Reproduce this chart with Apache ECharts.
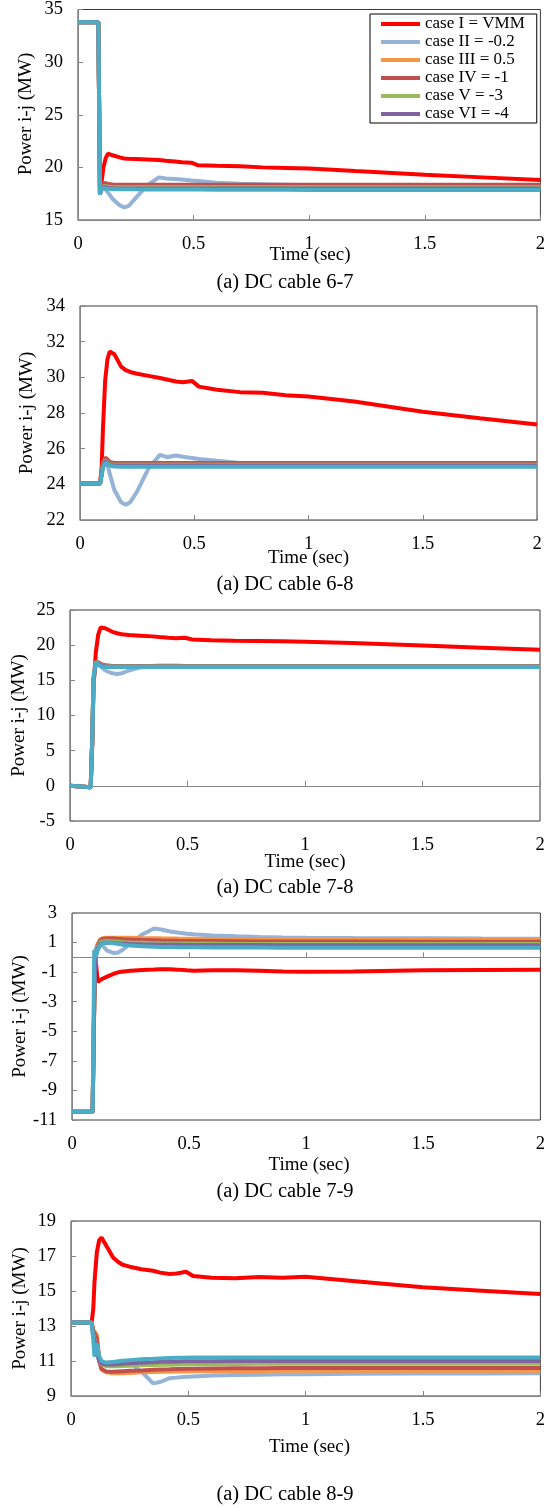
<!DOCTYPE html>
<html><head><meta charset="utf-8">
<script src="https://cdn.jsdelivr.net/npm/echarts@6/dist/echarts.min.js"></script>
<style>html,body{margin:0;padding:0;background:#fff}#c{width:548px;height:1508px}</style>
</head><body><div id="c"></div>
<script>
// time axis (sec), shared by every chart
const time = [0,0.088,0.095,0.1,0.11,0.12,0.13,0.15,0.18,0.2,0.22,0.25,0.3,0.35,0.38,0.42,0.45,0.49,0.52,0.6,0.7,0.8,0.9,1.0,1.2,1.5,1.75,2.0];
const caseNames = ['case I = VMM','case II = -0.2','case III = 0.5','case IV = -1','case V = -3','case VI = -4'];
const xTickLabels = ['0','0.5','1','1.5','2'];
const xTitle = 'Time (sec)';
const yTitle = 'Power i-j (MW)';
const captions = ['(a) DC cable 6-7','(a) DC cable 6-8','(a) DC cable 7-8','(a) DC cable 7-9','(a) DC cable 8-9'];
const yMin = [15, 22, -5, -11, 9];
const yMax = [35, 34, 25, 3, 19];
const yStep = [5, 2, 5, 2, 2];

// DC cable 6-7
const c67_I   = [33.8,33.8,17.5,18.3,20.0,20.9,21.3,21.15,20.95,20.85,20.82,20.8,20.75,20.7,20.62,20.55,20.48,20.45,20.2,20.15,20.1,20.0,19.95,19.9,19.65,19.3,19.05,18.8];
const c67_II  = [33.8,33.8,17.5,17.9,18.0,17.9,17.6,17.0,16.4,16.2,16.35,17.1,18.3,19.05,18.95,18.9,18.85,18.75,18.7,18.55,18.45,18.4,18.35,18.3,18.25,18.2,18.2,18.15];
const c67_III = [33.8,33.8,17.5,18.0,18.4,18.45,18.35,18.3,18.28,18.27,18.27,18.26,18.26,18.26,18.25,18.25,18.25,18.25,18.25,18.25,18.25,18.25,18.25,18.25,18.25,18.25,18.25,18.25];
const c67_IV  = [33.8,33.8,17.5,18.1,18.5,18.5,18.42,18.38,18.36,18.36,18.35,18.35,18.35,18.35,18.35,18.35,18.35,18.35,18.35,18.35,18.35,18.35,18.35,18.35,18.35,18.35,18.35,18.35];
const c67_V   = [33.8,33.8,17.5,17.9,18.2,18.2,18.15,18.12,18.1,18.1,18.1,18.1,18.1,18.1,18.1,18.1,18.1,18.1,18.1,18.1,18.1,18.1,18.1,18.1,18.1,18.1,18.1,18.1];
const c67_VI  = [33.8,33.8,17.5,17.9,18.1,18.1,18.05,18.02,18.0,18.0,18.0,18.0,18.0,18.0,18.0,18.0,18.0,18.0,18.0,18.0,18.0,18.0,18.0,18.0,18.0,18.0,18.0,18.0];
const c67_VII = [33.8,33.8,17.4,17.9,18.0,18.0,17.97,17.95,17.93,17.92,17.92,17.91,17.9,17.9,17.9,17.9,17.9,17.9,17.9,17.88,17.88,17.87,17.87,17.86,17.86,17.85,17.85,17.85];

// DC cable 6-8
const c68_I   = [24.05,24.05,25.0,27.0,29.8,31.0,31.45,31.3,30.6,30.4,30.3,30.2,30.08,29.96,29.88,29.77,29.73,29.8,29.48,29.3,29.17,29.13,29.0,28.92,28.64,28.07,27.7,27.35];
const c68_II  = [24.05,24.05,24.6,25.0,25.25,25.1,24.6,23.7,23.0,22.85,23.0,23.6,24.9,25.65,25.52,25.62,25.55,25.48,25.42,25.32,25.2,25.15,25.12,25.1,25.1,25.1,25.1,25.1];
const c68_III = [24.05,24.05,24.7,25.1,25.45,25.35,25.2,25.15,25.15,25.15,25.15,25.15,25.15,25.15,25.15,25.15,25.15,25.15,25.15,25.15,25.15,25.15,25.15,25.15,25.15,25.15,25.15,25.15];
const c68_IV  = [24.05,24.05,24.7,25.2,25.5,25.4,25.25,25.2,25.2,25.2,25.2,25.2,25.2,25.2,25.2,25.2,25.2,25.2,25.2,25.2,25.2,25.2,25.2,25.2,25.2,25.2,25.2,25.2];
const c68_V   = [24.05,24.05,24.6,25.0,25.35,25.25,25.12,25.1,25.1,25.1,25.1,25.1,25.1,25.1,25.1,25.1,25.1,25.1,25.1,25.1,25.1,25.1,25.1,25.1,25.1,25.1,25.1,25.1];
const c68_VI  = [24.05,24.05,24.6,25.0,25.3,25.2,25.08,25.05,25.05,25.05,25.05,25.05,25.05,25.05,25.05,25.05,25.05,25.05,25.05,25.05,25.05,25.05,25.05,25.05,25.05,25.05,25.05,25.05];
const c68_VII = [24.05,24.05,24.5,24.9,25.2,25.15,25.05,25.0,24.98,24.98,24.98,24.98,24.98,24.98,24.98,24.98,24.98,24.98,24.98,24.98,24.98,24.98,24.98,24.98,24.98,24.98,24.98,24.98];

// DC cable 7-8
const c78_I   = [0,-0.2,6,14,19,21.5,22.5,22.4,21.9,21.7,21.55,21.45,21.35,21.25,21.15,21.05,21.0,21.05,20.8,20.7,20.62,20.6,20.55,20.5,20.3,19.95,19.65,19.35];
const c78_II  = [0,-0.2,7,15,17.5,17.4,17.0,16.4,16.0,15.9,16.0,16.4,16.85,17.05,17.1,17.1,17.1,17.05,17.0,17.0,17.0,17.0,17.0,17.0,17.0,17.0,17.0,17.0];
const c78_III = [0,-0.2,7,15,17.7,17.5,17.3,17.1,17.0,17.0,17.0,17.0,17.0,17.0,17.0,17.0,17.0,17.0,17.0,17.0,17.0,17.0,17.0,17.0,17.0,17.0,17.0,17.0];
const c78_IV  = [0,-0.2,7,15,17.75,17.55,17.35,17.15,17.05,17.05,17.05,17.05,17.05,17.05,17.05,17.05,17.05,17.05,17.05,17.05,17.05,17.05,17.05,17.05,17.05,17.05,17.05,17.05];
const c78_V   = [0,-0.2,7,15,17.6,17.4,17.2,17.05,17.0,17.0,17.0,17.0,17.0,17.0,17.0,17.0,17.0,17.0,17.0,17.0,17.0,17.0,17.0,17.0,17.0,17.0,17.0,17.0];
const c78_VI  = [0,-0.2,7,15,17.55,17.35,17.15,17.0,16.95,16.95,16.95,16.95,16.95,16.95,16.95,16.95,16.95,16.95,16.95,16.95,16.95,16.95,16.95,16.95,16.95,16.95,16.95,16.95];
const c78_VII = [0,-0.2,7,15.5,17.6,17.3,17.0,16.9,16.9,16.9,16.9,16.9,16.9,16.9,16.9,16.9,16.9,16.9,16.9,16.9,16.9,16.9,16.9,16.9,16.9,16.9,16.9,16.9];

// DC cable 7-9
const c79_I   = [-10.45,-10.45,-3,0.0,-1.65,-1.55,-1.45,-1.3,-1.1,-1.0,-0.95,-0.9,-0.85,-0.82,-0.8,-0.8,-0.83,-0.88,-0.9,-0.87,-0.88,-0.9,-0.95,-0.98,-0.95,-0.88,-0.85,-0.84];
const c79_II  = [-10.45,-10.45,-2,0.5,0.9,1.05,0.8,0.45,0.28,0.35,0.55,0.95,1.55,1.95,1.88,1.75,1.68,1.6,1.56,1.48,1.42,1.38,1.35,1.33,1.31,1.29,1.27,1.26];
const c79_III = [-10.45,-10.45,-3,0.2,0.9,1.2,1.3,1.33,1.33,1.32,1.32,1.32,1.3,1.3,1.29,1.28,1.27,1.26,1.26,1.25,1.24,1.23,1.23,1.22,1.22,1.21,1.2,1.2];
const c79_IV  = [-10.45,-10.45,-3,0.1,0.8,1.15,1.25,1.28,1.27,1.25,1.22,1.2,1.18,1.16,1.14,1.13,1.12,1.11,1.1,1.1,1.09,1.08,1.08,1.07,1.07,1.06,1.06,1.05];
const c79_V   = [-10.45,-10.45,-3,0.1,0.7,1.0,1.08,1.1,1.08,1.05,1.03,1.0,0.98,0.96,0.95,0.94,0.93,0.93,0.92,0.92,0.91,0.91,0.91,0.9,0.9,0.9,0.9,0.9];
const c79_VI  = [-10.45,-10.45,-3,0.0,0.6,0.9,0.98,1.0,0.98,0.95,0.93,0.9,0.88,0.87,0.86,0.85,0.85,0.84,0.84,0.83,0.83,0.83,0.82,0.82,0.82,0.82,0.82,0.82];
const c79_VII = [-10.45,-10.45,0.5,0.0,0.5,0.8,0.95,1.0,0.95,0.9,0.85,0.8,0.75,0.72,0.7,0.7,0.69,0.68,0.68,0.67,0.66,0.66,0.65,0.65,0.65,0.65,0.65,0.65];

// DC cable 8-9
const c89_I   = [13.2,13.2,14.0,15.5,17.2,17.9,18.05,17.6,16.9,16.67,16.5,16.39,16.24,16.16,16.05,15.97,16.0,16.1,15.86,15.76,15.73,15.8,15.76,15.81,15.57,15.21,15.02,14.83];
const c89_II  = [13.2,13.2,12.5,12.0,11.5,11.0,10.9,10.9,10.95,10.95,10.95,10.9,10.4,9.72,9.8,10.02,10.05,10.1,10.12,10.17,10.2,10.22,10.24,10.25,10.27,10.28,10.29,10.3];
const c89_III = [13.2,13.2,12.8,12.9,12.5,11.2,10.5,10.35,10.3,10.3,10.3,10.32,10.35,10.37,10.38,10.39,10.4,10.4,10.41,10.42,10.43,10.43,10.44,10.44,10.45,10.45,10.45,10.45];
const c89_IV  = [13.2,13.2,12.7,12.8,12.3,11.0,10.55,10.4,10.38,10.4,10.42,10.44,10.46,10.5,10.52,10.53,10.54,10.55,10.56,10.57,10.58,10.59,10.6,10.6,10.6,10.6,10.6,10.6];
const c89_V   = [13.2,13.2,12.5,12.4,11.8,11.0,10.8,10.7,10.7,10.7,10.72,10.73,10.75,10.77,10.78,10.79,10.8,10.8,10.81,10.82,10.83,10.84,10.84,10.85,10.85,10.85,10.85,10.85];
const c89_VI  = [13.2,13.2,12.4,12.2,11.6,11.0,10.85,10.8,10.8,10.82,10.84,10.87,10.9,10.93,10.95,10.96,10.97,10.98,10.98,10.99,11.0,11.0,11.0,11.0,11.0,11.0,11.0,11.0];
const c89_VII = [13.2,13.2,12.2,11.25,12.0,11.3,11.0,10.9,10.95,10.98,11.02,11.05,11.1,11.13,11.15,11.17,11.18,11.19,11.2,11.2,11.2,11.2,11.2,11.2,11.2,11.2,11.2,11.2];

const chartSeries = [
  [c67_I,c67_II,c67_III,c67_IV,c67_V,c67_VI,c67_VII],
  [c68_I,c68_II,c68_III,c68_IV,c68_V,c68_VI,c68_VII],
  [c78_I,c78_II,c78_III,c78_IV,c78_V,c78_VI,c78_VII],
  [c79_I,c79_II,c79_III,c79_IV,c79_V,c79_VI,c79_VII],
  [c89_I,c89_II,c89_III,c89_IV,c89_V,c89_VI,c89_VII]
];

// ---------- layout / style ----------
const colors = ['#FF0000','#95B3D7','#F79646','#C0504D','#9BBB59','#8064A2','#4BACC6'];
const FONT = 'Liberation Serif, Times New Roman, serif';
const grids = [
  {left:78, top:8,    width:464, height:212},
  {left:80, top:306,  width:457, height:214},
  {left:70, top:610,  width:470, height:211},
  {left:72, top:913,  width:474, height:207},
  {left:71, top:1221, width:477, height:175}
];
const xTitleY = [255, 558, 862, 1165, 1447];
const yTitleX = [26, 27, 19, 20, 20];
const capY = [283, 585, 888, 1192, 1495];
const axisGray = '#868686';
const tickFmt = v => { const s = String(+v.toFixed(2)); return xTickLabels.includes(s) ? s : ''; };
const labelStyle = {fontFamily:FONT, fontSize:18.5, fontWeight:400, color:'#000'};

const gridOpt = grids.map(g => Object.assign({show:true, borderColor:'#3a3a3a', borderWidth:1, z:0}, g));
const xAxes = [], yAxes = [], xIndexOf = [];
grids.forEach((g, i) => {
  const zeroLine = (yMin[i] < 0 && yMax[i] > 0);
  const base = {type:'value', gridIndex:i, min:0, max:2, interval:0.5, z:1, splitLine:{show:false}};
  const labelled = {axisLabel:Object.assign({show:true, margin:15, formatter:tickFmt}, labelStyle)};
  if (zeroLine) {
    xIndexOf.push(xAxes.length);
    xAxes.push(Object.assign({}, base, {
      position:'bottom',
      axisLine:{show:true, onZero:true, lineStyle:{color:axisGray, width:1}},
      axisTick:{show:true, inside:true, length:5, lineStyle:{color:axisGray}},
      axisLabel:{show:false}
    }));
    xAxes.push(Object.assign({}, base, labelled, {
      position:'bottom',
      axisLine:{show:false, onZero:false},
      axisTick:{show:false}
    }));
  } else {
    xIndexOf.push(xAxes.length);
    xAxes.push(Object.assign({}, base, labelled, {
      position:'bottom',
      axisLine:{show:true, onZero:false, lineStyle:{color:axisGray, width:1}},
      axisTick:{show:true, inside:true, length:5, lineStyle:{color:axisGray}}
    }));
  }
  yAxes.push({
    type:'value', gridIndex:i, min:yMin[i], max:yMax[i], interval:yStep[i], z:1,
    axisLine:{show:true, onZero:false, lineStyle:{color:axisGray, width:1}},
    axisTick:{show:true, inside:true, length:5, lineStyle:{color:axisGray}},
    axisLabel:Object.assign({margin:15}, labelStyle),
    splitLine:{show:false}
  });
});

const series = [];
chartSeries.forEach((list, g) => {
  list.forEach((vals, k) => {
    series.push({
      type:'line',
      name: k < caseNames.length ? caseNames[k] : 'case VII',
      xAxisIndex: xIndexOf[g], yAxisIndex: g,
      data: time.map((t, j) => [t, vals[j]]),
      showSymbol:false, symbol:'none',
      lineStyle:{color:colors[k], width:4},
      itemStyle:{color:colors[k]},
      z: 2 + k * 0.01,
      animation:false
    });
  });
});

const textEl = (txt, x, y, size, rot) => ({
  type:'text', x:x, y:y, rotation:rot || 0, z:10,
  style:{text:txt, font:size + 'px ' + FONT, fill:'#000', align:'center', verticalAlign:'middle', textAlign:'center', textVerticalAlign:'middle'}
});
const graphics = [];
grids.forEach((g, i) => {
  graphics.push(textEl(captions[i], 285, capY[i], 20.5));
  graphics.push(textEl(xTitle, g.left + g.width / 2, xTitleY[i], 19));
  graphics.push(textEl(yTitle, yTitleX[i], g.top + g.height / 2, 19, Math.PI / 2));
});

const option = {
  backgroundColor:'#fff',
  animation:false,
  grid: gridOpt,
  xAxis: xAxes,
  yAxis: yAxes,
  legend: {
    data: caseNames, orient:'vertical', left:370, top:14,
    padding:[1,12,0,11], itemGap:0, itemWidth:39, itemHeight:4, icon:'rect',
    backgroundColor:'#fff', borderColor:'#000', borderWidth:1,
    textStyle:{fontFamily:FONT, fontSize:17, lineHeight:18, color:'#000'},
    selectedMode:false, z:10
  },
  graphic: graphics,
  series: series
};
const chart = echarts.init(document.getElementById('c'), null, {renderer:'canvas'});
chart.setOption(option);
</script></body></html>
